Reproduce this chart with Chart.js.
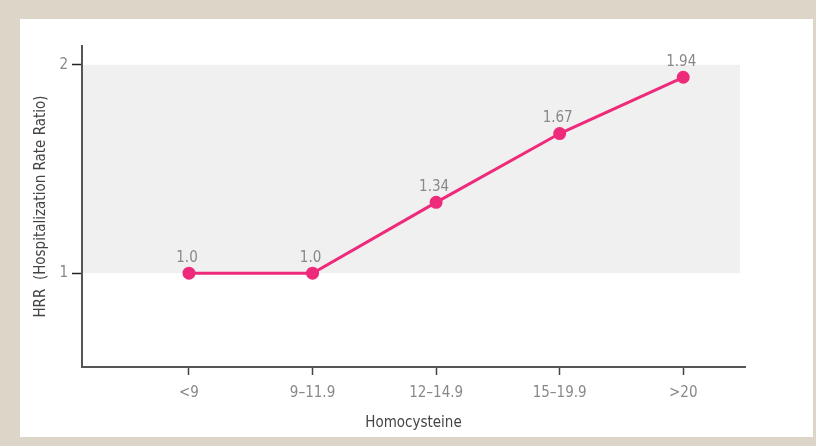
<!DOCTYPE html>
<html>
<head>
<meta charset="utf-8">
<script src="https://cdn.jsdelivr.net/npm/chart.js@4"></script>
<style>
  html, body { margin: 0; padding: 0; }
  body { width: 816px; height: 446px; background: #ddd5c8; position: relative; overflow: hidden; }
  #panel { position: absolute; left: 20px; top: 19px; width: 793px; height: 418px; background: #fff; }
  #wrap { position: absolute; left: 0; top: 0; width: 816px; height: 446px; }
</style>
</head>
<body>
<div id="panel"></div>
<div id="wrap"><canvas id="hrr"></canvas></div>
<script>
const categories = ['<9', '9\u201311.9', '12\u201314.9', '15\u201319.9', '>20'];
const hrrValues = [1.0, 1.0, 1.34, 1.67, 1.94];
const yTicks = [1, 2];
const bandRange = [1, 2];//shaded reference band

const FONT = "'Liberation Sans Narrow', 'DejaVu Sans Condensed', sans-serif";
const PINK = '#ee2a7b';

// light grey band between 1 and 2
const bandPlugin = {
  id: 'band',
  beforeDraw(chart) {
    const { ctx, chartArea, scales } = chart;
    const top = scales.y.getPixelForValue(bandRange[1]);
    const bottom = scales.y.getPixelForValue(bandRange[0]);
    ctx.save();
    ctx.fillStyle = '#f0f0f0';
    ctx.fillRect(chartArea.left, top, chartArea.right - chartArea.left - 5, bottom - top);
    ctx.restore();
  }
};

// value text above each point
const valueLabels = {
  id: 'valueLabels',
  afterDatasetsDraw(chart) {
    const { ctx } = chart;
    const meta = chart.getDatasetMeta(0);
    ctx.save();
    ctx.font = '15px ' + FONT;
    ctx.fillStyle = '#888';
    ctx.textAlign = 'center';
    ctx.textBaseline = 'bottom';
    meta.data.forEach((pt, i) => {
      const v = hrrValues[i];
      const txt = Number.isInteger(v) ? v.toFixed(1) : v.toFixed(2);
      ctx.fillText(txt, pt.x - 2, pt.y - 8);
    });
    ctx.restore();
  }
};

new Chart(document.getElementById('hrr'), {
  type: 'line',
  data: {
    datasets: [{
      data: hrrValues.map((v, i) => ({ x: i, y: v })),
      borderColor: PINK,
      backgroundColor: PINK,
      borderWidth: 3,
      pointRadius: 5,
      pointHoverRadius: 5,
      tension: 0,
    }],
  },
  options: {
    responsive: true,
    maintainAspectRatio: false,
    animation: false,
    events: [],
    layout: { padding: { left: 0, top: 46, right: 71, bottom: 0 } },
    plugins: { legend: { display: false }, tooltip: { enabled: false } },
    scales: {
      x: {
        type: 'linear',
        min: -0.866,
        max: 4.5,
        afterBuildTicks: (scale) => { scale.ticks = categories.map((c, i) => ({ value: i })); },
        afterFit: (scale) => { scale.height = 79; },
        ticks: {
          callback: (value) => categories[value],
          color: '#888',
          font: { family: FONT, size: 15 },
          padding: 9,
          autoSkip: false,
          maxRotation: 0,
        },
        grid: { drawOnChartArea: false, tickLength: 8, color: '#444', tickWidth: 1.5 },
        border: { color: '#555', width: 2 },
        title: {
          display: true,
          text: 'Homocysteine',
          color: '#444',
          font: { family: FONT, size: 15 },
          padding: { top: 0, bottom: 14 },
        },
      },
      y: {
        min: 0.55,
        max: 2.09,
        afterBuildTicks: (scale) => { scale.ticks = yTicks.map((v) => ({ value: v })); },
        afterFit: (scale) => { scale.width = 82; },
        ticks: {
          color: '#888',
          font: { family: FONT, size: 15 },
          padding: 4,
        },
        grid: { drawOnChartArea: false, tickLength: 10, color: '#222', tickWidth: 1.5 },
        border: { color: '#555', width: 2 },
        title: {
          display: true,
          text: 'HRR  (Hospitalization Rate Ratio)',
          color: '#444',
          font: { family: FONT, size: 15 },
          padding: { top: 32, bottom: 0 },
        },
      },
    },
  },
  plugins: [bandPlugin, valueLabels],
});
</script>
</body>
</html>
